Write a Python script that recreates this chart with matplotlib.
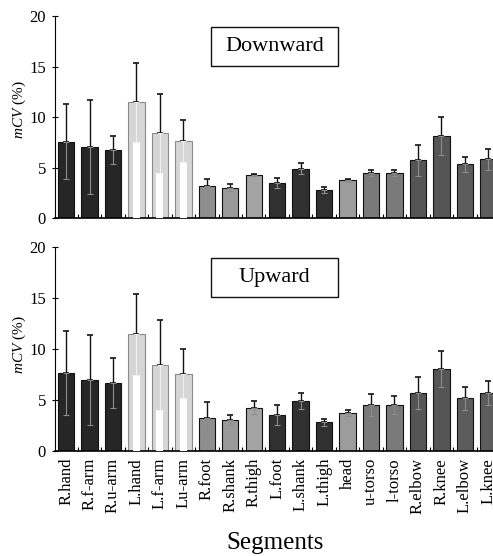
import numpy as np
import matplotlib
matplotlib.use("Agg")
import matplotlib.pyplot as plt
from matplotlib.patches import Rectangle

plt.rcParams['font.family'] = 'Liberation Serif'
plt.rcParams['mathtext.fontset'] = 'custom'
plt.rcParams['mathtext.it'] = 'Liberation Serif:italic'
plt.rcParams['mathtext.rm'] = 'Liberation Serif'

# segment names and mean / SD values (% mCV)
segments = ["R.hand", "R.f-arm", "R.u-arm", "L.hand", "L.f-arm", "Lu-arm",
            "R.foot", "R.shank", "R.thigh", "L.foot", "L.shank", "L.thigh",
            "head", "u-torso", "l-torso", "R.elbow", "R.knee", "L.elbow", "L.knee"]

down_mean = [7.55, 7.0, 6.7, 11.45, 8.4, 7.6, 3.2, 3.0, 4.25, 3.5, 4.9, 2.8,
             3.75, 4.5, 4.5, 5.7, 8.1, 5.3, 5.8]
down_sd = [3.7, 4.65, 1.4, 3.9, 3.9, 2.1, 0.65, 0.35, 0.07, 0.5, 0.5, 0.3,
           0.15, 0.3, 0.3, 1.55, 1.9, 0.75, 1.0]

up_mean = [7.65, 7.0, 6.65, 11.45, 8.4, 7.6, 3.25, 3.05, 4.25, 3.55, 4.9, 2.8,
           3.75, 4.5, 4.5, 5.7, 8.05, 5.15, 5.7]
up_sd = [4.15, 4.4, 2.45, 3.95, 4.4, 2.4, 1.55, 0.5, 0.65, 1.0, 0.75, 0.3,
         0.27, 1.05, 0.9, 1.6, 1.8, 1.1, 1.2]

bar_colors = ["#262626", "#262626", "#262626",
              "#d6d6d6", "#d6d6d6", "#d6d6d6",
              "#8e8e8e", "#9a9a9a", "#a4a4a4",
              "#303030", "#303030", "#303030",
              "#9c9c9c", "#7a7a7a", "#7a7a7a",
              "#555555", "#555555", "#5c5c5c", "#5c5c5c"]
light = [c == "#d6d6d6" for c in bar_colors]

x = np.arange(len(segments))

fig = plt.figure(figsize=(4.93, 5.56), dpi=100)
ax_top = fig.add_axes([0.1116, 0.6079, 0.8884, 0.3633])
ax_bot = fig.add_axes([0.1116, 0.1888, 0.8884, 0.3669])


def draw_panel(ax, means, sds, title):
    means = np.array(means)
    sds = np.array(sds)
    edge = ["#8a8a8a" if l else "#111111" for l in light]
    ax.bar(x, means, width=0.7, color=bar_colors, edgecolor=edge, linewidth=0.8, zorder=2)
    # white band inside the light bars, up to the lower whisker
    lw_idx = np.where(light)[0]
    ax.bar(x[lw_idx], means[lw_idx] - sds[lw_idx], width=0.3, color="white",
           linewidth=0, zorder=3)
    # upper error bars
    ax.errorbar(x, means, yerr=[np.zeros_like(sds), sds], fmt="none",
                ecolor="#111111", elinewidth=1.0, capsize=2.5, capthick=1.2, zorder=4)
    # lower error bars, drawn inside the bars
    low_col = ["#f0f0f0" if l else "#8c8c8c" for l in light]
    for i in x:
        ax.errorbar(i, means[i], yerr=[[sds[i]], [0]], fmt="none",
                    ecolor=low_col[i], elinewidth=0.8, capsize=2.5, capthick=0.8, zorder=4)

    ax.set_xlim(-0.47, 18.2)
    ax.set_ylim(0, 20)
    ax.set_yticks([0, 5, 10, 15, 20])
    ax.tick_params(axis="y", direction="inout", length=5, width=0.8, labelsize=12, pad=4)
    ax.set_xticks(x)
    ax.set_xticks(np.arange(len(segments) - 1) + 0.5, minor=True)
    ax.tick_params(axis="x", which="major", length=0, labelsize=12, pad=5)
    ax.tick_params(axis="x", which="minor", direction="in", length=3, width=0.8)
    for s in ["top", "right"]:
        ax.spines[s].set_visible(False)
    ax.spines["left"].set_linewidth(0.8)
    ax.spines["bottom"].set_linewidth(1.2)
    ax.patch.set_alpha(0)

    # framed title box of fixed width
    box = Rectangle((0.357, 0.755), 0.288, 0.19, transform=ax.transAxes,
                    facecolor="white", edgecolor="#111111", linewidth=1.0, zorder=5)
    ax.add_patch(box)
    ax.text(0.501, 0.85, title, transform=ax.transAxes, ha="center", va="center",
            fontsize=16, zorder=6)


draw_panel(ax_top, down_mean, down_sd, "Downward")
draw_panel(ax_bot, up_mean, up_sd, "Upward")

ax_top.set_xticklabels([])
ax_bot.set_xticklabels(segments, rotation=90, va="top")

fig.text(19 / 493, 1 - 110 / 556, r"$\mathit{mCV}$ (%)", rotation=90,
         ha="center", va="center", fontsize=11)
fig.text(19 / 493, 1 - 345 / 556, r"$\mathit{mCV}$ (%)", rotation=90,
         ha="center", va="center", fontsize=11)
fig.text(275 / 493, 1 - 543 / 556, "Segments", ha="center", va="center", fontsize=18)

fig.savefig("out.png", dpi=100)
